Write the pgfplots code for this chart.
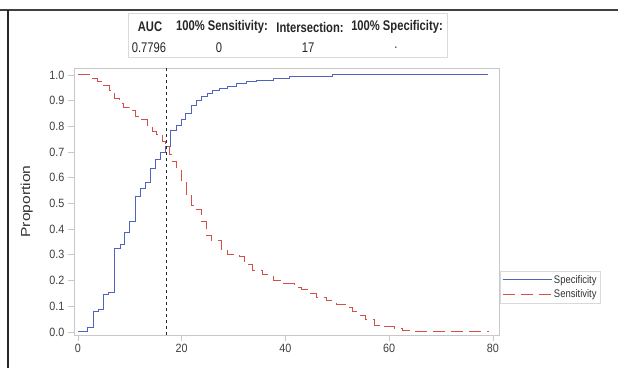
\documentclass[border=0pt]{standalone}
\usepackage{fontspec}
\setmainfont{Liberation Sans}
\newfontfamily\tickf{Liberation Sans}[FakeStretch=0.9]
\newfontfamily\headf{Liberation Sans}[FakeStretch=0.8]
\newfontfamily\legf{Liberation Sans}[FakeStretch=0.86]
\newfontfamily\labf{Liberation Sans}[FakeStretch=1.2]
\usepackage{pgfplots}
\pgfplotsset{compat=1.18}
\definecolor{specblue}{RGB}{80,100,190}
\definecolor{sensred}{RGB}{210,80,70}
\definecolor{framegray}{RGB}{200,200,200}
\begin{document}
\begin{tikzpicture}
\useasboundingbox (0pt,0pt) rectangle (620pt,-368pt);
\fill[white] (0pt,0pt) rectangle (620pt,-368pt);
\draw[black!75,line width=2pt] (0pt,-10pt) -- (618pt,-10pt);
\draw[black!85,line width=2pt] (8pt,-10pt) -- (8pt,-368pt);
% header table
\draw[black!15] (128pt,-13pt) rectangle (447pt,-57pt);
\begin{scope}[every node/.style={font=\headf\fontsize{14}{14}\selectfont, inner sep=0pt, text=black!85}]
\node at (150pt,-27pt) {\bfseries AUC};
\node at (222pt,-27pt) {\bfseries 100\% Sensitivity:};
\node at (310pt,-27pt) {\bfseries Intersection:};
\node at (397pt,-27pt) {\bfseries 100\% Specificity:};
\node at (149pt,-48pt) {0.7796};
\node at (219pt,-48pt) {0};
\node at (308pt,-48pt) {17};
\node at (396pt,-48pt) {.};
\end{scope}
\begin{axis}[
  at={(74pt,-335pt)}, anchor=south west,
  scale only axis, width=425pt, height=267pt,
  xmin=-0.77, xmax=81.16, ymin=-0.012, ymax=1.027,
  axis line style={framegray, line width=0.8pt},
  tick style={framegray, line width=0.7pt},
  tick align=outside, major tick length=6pt,
  xtick pos=left, ytick pos=left,
  xtick={0,20,40,60,80},
  ytick={0,0.1,0.2,0.3,0.4,0.5,0.6,0.7,0.8,0.9,1.0},
  yticklabel style={/pgf/number format/.cd, fixed, fixed zerofill, precision=1},
  ticklabel style={font=\tickf\fontsize{12}{12}\selectfont, text=black!75},
  /pgf/number format/assume math mode=true,
  ylabel={Proportion},
  ylabel style={font=\labf\fontsize{13}{13}\selectfont, text=black!80, at={(axis description cs:-0.111,0.5)}, anchor=center},
  legend style={at={(1.002,0.24)}, anchor=north west, draw=black!15, fill=white,
    font=\legf\fontsize{11}{11}\selectfont, text=black!80,
    inner xsep=2pt, inner ysep=2pt, row sep=1pt, cells={anchor=west}},
  legend image code/.code={\draw[#1] (0pt,0pt) -- (49pt,0pt);},
]
\addplot[specblue, line width=0.9pt, const plot] coordinates {
(0,0) (1.9,0.018) (2.9,0.08) (4.0,0.087) (5.0,0.145) (5.9,0.155) (7.1,0.326)
(8.1,0.342) (8.9,0.389) (10.0,0.43) (11.1,0.527) (12.0,0.557) (13.0,0.58)
(13.9,0.637) (14.9,0.67) (15.8,0.70) (16.9,0.722) (17.8,0.783) (19.0,0.805)
(20.0,0.828) (20.8,0.851) (21.9,0.883) (22.8,0.899) (23.8,0.916) (24.9,0.929)
(26.0,0.939) (27.3,0.948) (28.8,0.957) (30.5,0.965) (32.4,0.974) (34.4,0.98)
(37.6,0.987) (40.8,0.993) (49.1,1.0) (79.0,1.0)
};
\addlegendentry{Specificity}
\addplot[sensred, line width=0.9pt, const plot, dash pattern=on 12pt off 6pt] coordinates {
(0,1.0) (2.7,0.985) (3.7,0.975) (5.0,0.96) (6.0,0.94) (7.0,0.91) (7.9,0.89)
(8.8,0.875) (10.0,0.86) (11.0,0.84) (12.0,0.825) (13.3,0.80) (14.3,0.78)
(15.2,0.77) (16.2,0.74) (16.8,0.72) (17.7,0.689) (18.2,0.663) (19.0,0.63)
(20.0,0.58) (20.9,0.533) (21.9,0.494) (22.8,0.477) (23.8,0.429) (24.7,0.377)
(25.7,0.355) (27.6,0.319) (28.9,0.30) (31.2,0.293) (32.1,0.261) (33.7,0.241)
(35.6,0.222) (37.6,0.202) (39.5,0.187) (41.7,0.174) (43.0,0.166) (44.6,0.15)
(45.9,0.135) (47.8,0.122) (49.8,0.105) (51.7,0.095) (52.9,0.079) (54.2,0.066)
(55.5,0.047) (57.1,0.027) (59.0,0.021) (61.0,0.014) (62.6,0.005) (65.1,0)
(79.2,0)
};
\addlegendentry{Sensitivity}
\addplot[black!85, line width=0.8pt, dash pattern=on 3pt off 3pt, forget plot] coordinates {(17,-0.012) (17,1.027)};
\end{axis}
\end{tikzpicture}
\end{document}
